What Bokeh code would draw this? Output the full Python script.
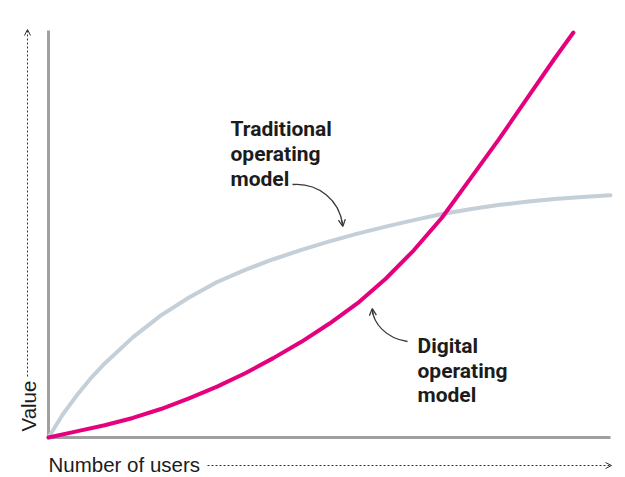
from bokeh.plotting import figure
from bokeh.models import Range1d, Arrow, OpenHead
from bokeh.core.properties import value
from bokeh.embed import file_html
from bokeh.resources import INLINE

# ---- data (arbitrary units 0..100) ----
users_digital = [0, 5, 10, 15, 20, 25, 30, 35, 40, 45, 50, 55, 60, 65, 70, 75, 80, 85, 90, 93.4]
digital = [0, 1.5, 3, 4.8, 7, 9.6, 12.5, 15.8, 19.5, 23.5, 28, 33, 39, 46, 54, 63.5, 73, 83, 93, 99.5]

users_trad = [0, 2.5, 5, 7.5, 10, 15, 20, 25, 30, 35, 40, 45, 50, 55, 60, 65, 70, 75, 80, 85, 90, 95, 100]
traditional = [0, 5.6, 10.3, 14.5, 18.2, 24.6, 30, 34.4, 38.2, 41.2, 43.8, 46.1, 48.2, 50.1, 51.8, 53.4, 54.9, 56.1, 57.1, 57.9, 58.6, 59.1, 59.5]

x_label = "Number of users"
y_label = "Value"
trad_label = ["Traditional", "operating", "model"]
digi_label = ["Digital", "operating", "model"]

# ---- layout helpers (canvas pixels -> data units) ----
PX_X = 5.62   # px per data unit horizontally
PX_Y = 4.07   # px per data unit vertically
OX, OY = 48, 437  # canvas position of origin
TXT = 7.5         # baseline compensation for text glyphs (px)


def dx(px):
    return (px - OX) / PX_X


def dy(py):
    return (OY - py) / PX_Y


W, H = 620, 477
p = figure(width=W, height=H, output_backend="svg", toolbar_location=None,
           x_range=Range1d(dx(0), dx(W)), y_range=Range1d(dy(H), dy(0)),
           x_axis_location=None, y_axis_location=None, min_border=0)
p.outline_line_color = None
p.grid.visible = False
p.background_fill_color = "white"
p.border_fill_color = "white"

AXIS = "#a0a0a0"
GRAY = "#c4cfd7"
MAGENTA = "#e5007e"
INK = "#1c1c1c"
ARROW = "#3a3a3a"

# axis lines
p.line([0, 0], [0, dy(30)], line_color=AXIS, line_width=3)
p.line([0, 100], [0, 0], line_color=AXIS, line_width=3)

# curves
p.line(users_trad, traditional, line_color=GRAY, line_width=4, line_join="round", line_cap="round")
p.line(users_digital, digital, line_color=MAGENTA, line_width=4, line_join="round", line_cap="round")

# axis labels
p.text(x=[0], y=[dy(471 - TXT)], text=[x_label], text_font=value("Liberation Sans"),
       text_font_size="20.5px", text_color=INK, text_baseline="alphabetic", text_align="left")
p.text(x=[dx(35 - TXT)], y=[dy(431)], text=[y_label], text_font=value("Liberation Sans"),
       text_font_size="20.5px", text_color=INK, text_baseline="alphabetic", text_align="left",
       angle=1.5707963)

# dotted arrows for axis labels
p.add_layout(Arrow(x_start=dx(207), y_start=dy(465), x_end=dx(611), y_end=dy(465),
                   line_color="#333333", line_width=1, line_dash="2 2",
                   end=OpenHead(size=6, line_color="#333333", line_width=1)))
p.add_layout(Arrow(x_start=dx(27), y_start=dy(376), x_end=dx(27), y_end=dy(29),
                   line_color="#333333", line_width=1, line_dash="2 2",
                   end=OpenHead(size=6, line_color="#333333", line_width=1)))

# annotation texts
p.text(x=[dx(230)] * 3, y=[dy(136 - TXT), dy(161 - TXT), dy(186 - TXT)], text=trad_label,
       text_font=value("Roboto"), text_font_style="bold", text_font_size="21px",
       text_color=INK, text_baseline="alphabetic", text_align="left")
p.text(x=[dx(417)] * 3, y=[dy(353 - TXT), dy(378 - TXT), dy(402 - TXT)], text=digi_label,
       text_font=value("Roboto"), text_font_style="bold", text_font_size="21px",
       text_color=INK, text_baseline="alphabetic", text_align="left")

# curved pointer arrows
p.bezier(x0=[dx(292)], y0=[dy(184)], x1=[dx(342)], y1=[dy(224)],
         cx0=[dx(318)], cy0=[dy(182)], cx1=[dx(339)], cy1=[dy(200)],
         line_color=ARROW, line_width=1.3)
p.add_layout(Arrow(x_start=dx(341.5), y_start=dy(220), x_end=dx(342.3), y_end=dy(226),
                   line_color=ARROW, line_width=1.3,
                   end=OpenHead(size=7, line_color=ARROW, line_width=1.3)))

p.bezier(x0=[dx(407)], y0=[dy(341)], x1=[dx(372)], y1=[dy(310)],
         cx0=[dx(385)], cy0=[dy(338)], cx1=[dx(373)], cy1=[dy(322)],
         line_color=ARROW, line_width=1.3)
p.add_layout(Arrow(x_start=dx(372.3), y_start=dy(314), x_end=dx(371.8), y_end=dy(308),
                   line_color=ARROW, line_width=1.3,
                   end=OpenHead(size=7, line_color=ARROW, line_width=1.3)))

open("out.html", "w").write(file_html(p, INLINE))
